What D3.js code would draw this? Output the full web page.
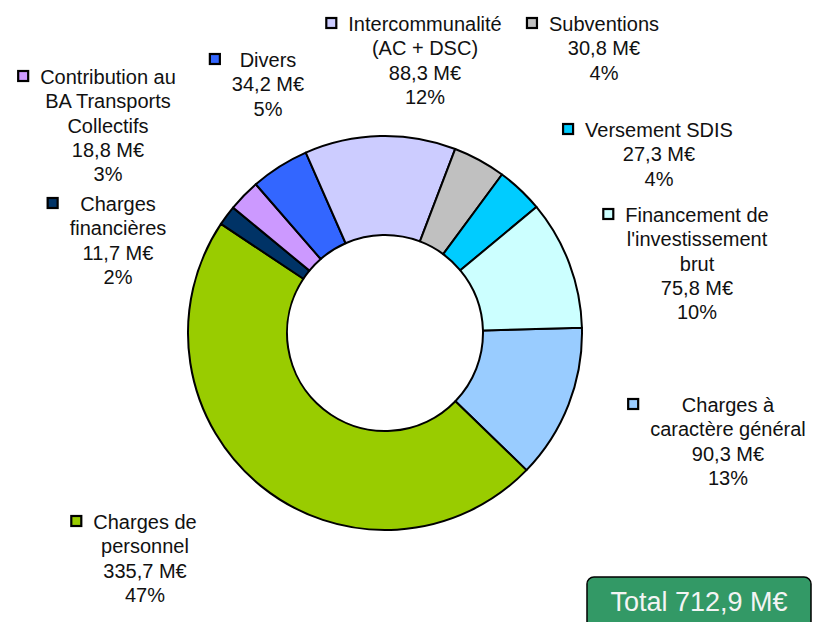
<!DOCTYPE html>
<html>
<head>
<meta charset="utf-8">
<script src="https://cdn.jsdelivr.net/npm/d3@7"></script>
<style>
  body { margin: 0; background: #fff; }
  text { font-family: "Liberation Sans", Arial, sans-serif; }
</style>
</head>
<body>
<div id="chart"></div>
<script>
// slices, clockwise from the 3 o'clock edge
const labels = [
  ["Charges à", "caractère général"],
  ["Charges de", "personnel"],
  ["Charges", "financières"],
  ["Contribution au", "BA Transports", "Collectifs"],
  ["Divers"],
  ["Intercommunalité", "(AC + DSC)"],
  ["Subventions"],
  ["Versement SDIS"],
  ["Financement de", "l'investissement", "brut"]
];
const values = [90.3, 335.7, 11.7, 18.8, 34.2, 88.3, 30.8, 27.3, 75.8];
const percents = [13, 47, 2, 3, 5, 12, 4, 4, 10];
const colors = ["#99ccff", "#99cc00", "#003366", "#cc99ff", "#3366ff",
                "#ccccff", "#c0c0c0", "#00ccff", "#ccffff"];
const totalValue = 712.9;

// where the labels sit (center x, first baseline)
const labelPos = [
  [728, 412], [145, 529], [118, 211], [108, 84], [268, 67],
  [425, 31], [604, 31], [659, 137], [697, 222]
];

/* Dimensions */
const width = 814, height = 622;
const cx = 385, cy = 333;
const outerR = 197, innerR = 98;
const lineH = 24.3;

const fr = d3.formatLocale({ decimal: ",", thousands: " ", grouping: [3], currency: ["", "€"] });
const fmt = fr.format(".1f");

const svg = d3.select("#chart")
  .append("svg")
  .attr("width", width)
  .attr("height", height);

const start = 88.5 * Math.PI / 180;
const pie = d3.pie()
  .sort(null)
  .value(d => d)
  .startAngle(start)
  .endAngle(start + 2 * Math.PI);

const arc = d3.arc().innerRadius(innerR).outerRadius(outerR);

svg.append("g")
  .attr("transform", `translate(${cx},${cy})`)
  .selectAll("path")
  .data(pie(values))
  .join("path")
  .attr("d", arc)
  .attr("fill", (d, i) => colors[i])
  .attr("stroke", "#000")
  .attr("stroke-width", 2)
  .attr("stroke-linejoin", "round");

// data labels with legend key
const lab = svg.append("g")
  .selectAll("g")
  .data(values)
  .join("g");

lab.each(function (v, i) {
  const g = d3.select(this);
  const [x, y0] = labelPos[i];
  const lines = labels[i].concat([fmt(v) + " M€", percents[i] + "%"]);
  const t = g.append("text")
    .attr("text-anchor", "middle")
    .attr("font-size", 20)
    .attr("fill", "#111");
  lines.forEach((l, k) => {
    t.append("tspan").attr("x", x).attr("y", y0 + k * lineH).text(l);
  });
  let maxW = 0;
  t.selectAll("tspan").each(function () {
    maxW = Math.max(maxW, this.getComputedTextLength());
  });
  g.append("rect")
    .attr("x", x - maxW / 2 - 12 - 10)
    .attr("y", y0 - 8 - 5)
    .attr("width", 10)
    .attr("height", 10)
    .attr("fill", colors[i])
    .attr("stroke", "#000")
    .attr("stroke-width", 2.2);
});

// total box
const tot = svg.append("g");
tot.append("rect")
  .attr("x", 587)
  .attr("y", 577)
  .attr("width", 224)
  .attr("height", 60)
  .attr("rx", 7)
  .attr("fill", "#339966")
  .attr("stroke", "#000")
  .attr("stroke-width", 1.5);
tot.append("text")
  .attr("x", 699)
  .attr("y", 611)
  .attr("text-anchor", "middle")
  .attr("font-size", 27)
  .attr("fill", "#f4f4f4")
  .text("Total " + fmt(totalValue) + " M€");
</script>
</body>
</html>
